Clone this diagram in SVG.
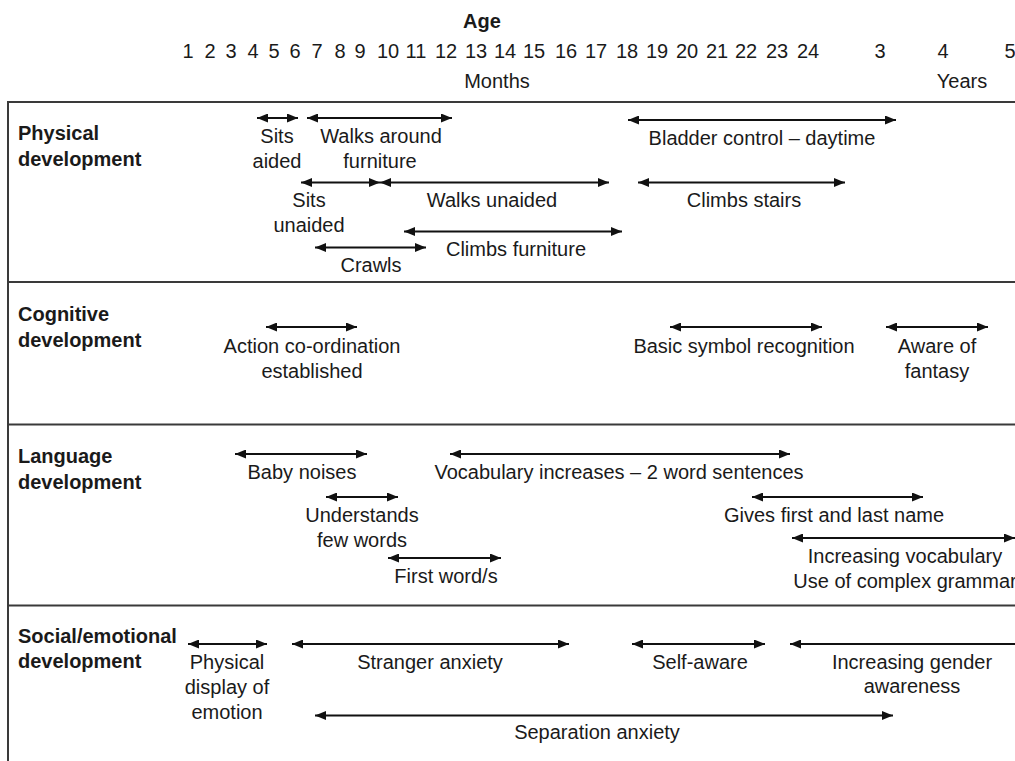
<svg xmlns="http://www.w3.org/2000/svg" width="1015" height="761" viewBox="0 0 1015 761">
<style>
text{font-family:"Liberation Sans",Arial,sans-serif;font-size:20px;fill:#1a1a1a}
.c{text-anchor:middle}
.b{font-weight:bold}
.grid{stroke:#3a3a3a;stroke-width:2;fill:none}
.a{stroke:#111;stroke-width:1.9;fill:none;marker-start:url(#ah);marker-end:url(#ah)}
.s{stroke:#111;stroke-width:1.9;fill:none;marker-start:url(#ah)}
</style>
<defs>
<marker id="ah" viewBox="0 0 11 9" refX="11" refY="4.5" markerWidth="11" markerHeight="9" markerUnits="userSpaceOnUse" orient="auto-start-reverse">
<path d="M0,0 L11,4.5 L0,9 z" fill="#111"/>
</marker>
</defs>
<rect width="1015" height="761" fill="#fff"/>
<g id="header">
<text class="c b" x="482" y="28">Age</text>
<g class="c">
<text class="c" x="188" y="58">1</text>
<text class="c" x="210" y="58">2</text>
<text class="c" x="231" y="58">3</text>
<text class="c" x="253" y="58">4</text>
<text class="c" x="274" y="58">5</text>
<text class="c" x="295" y="58">6</text>
<text class="c" x="317" y="58">7</text>
<text class="c" x="340" y="58">8</text>
<text class="c" x="360" y="58">9</text>
<text class="c" x="388" y="58">10</text>
<text class="c" x="416" y="58">11</text>
<text class="c" x="446" y="58">12</text>
<text class="c" x="476" y="58">13</text>
<text class="c" x="505" y="58">14</text>
<text class="c" x="534" y="58">15</text>
<text class="c" x="566" y="58">16</text>
<text class="c" x="596" y="58">17</text>
<text class="c" x="627" y="58">18</text>
<text class="c" x="657" y="58">19</text>
<text class="c" x="687" y="58">20</text>
<text class="c" x="717" y="58">21</text>
<text class="c" x="746" y="58">22</text>
<text class="c" x="777" y="58">23</text>
<text class="c" x="808" y="58">24</text>
<text class="c" x="880" y="58">3</text>
<text class="c" x="943" y="58">4</text>
<text class="c" x="1010" y="58">5</text>
</g>
<text class="c" x="497" y="88">Months</text>
<text class="c" x="962" y="88">Years</text>
</g>
<g id="table">
<line class="grid" x1="8" y1="102" x2="1015" y2="102"/>
<line class="grid" x1="8" y1="282" x2="1015" y2="282"/>
<line class="grid" x1="8" y1="424.5" x2="1015" y2="424.5"/>
<line class="grid" x1="8" y1="605.5" x2="1015" y2="605.5"/>
<line class="grid" x1="8" y1="101" x2="8" y2="761"/>
</g>
<g id="row-physical">
<text class="b" x="18" y="140">Physical</text>
<text class="b" x="18" y="166">development</text>
</g>
<g id="row-cognitive">
<text class="b" x="18" y="321">Cognitive</text>
<text class="b" x="18" y="347">development</text>
</g>
<g id="row-language">
<text class="b" x="18" y="463">Language</text>
<text class="b" x="18" y="489">development</text>
</g>
<g id="row-social">
<text class="b" x="18" y="643">Social/emotional</text>
<text class="b" x="18" y="668">development</text>
</g>
<g id="connectors">
<line class="a" x1="257" y1="118" x2="298" y2="118"/>
<line class="a" x1="307" y1="118" x2="452" y2="118"/>
<line class="a" x1="628" y1="120" x2="896" y2="120"/>
<line class="a" x1="301" y1="182.5" x2="380" y2="182.5"/>
<line class="a" x1="380" y1="182.5" x2="609" y2="182.5"/>
<line class="a" x1="638" y1="182.5" x2="845" y2="182.5"/>
<line class="a" x1="404" y1="231.5" x2="622" y2="231.5"/>
<line class="a" x1="315" y1="247.5" x2="426" y2="247.5"/>
<line class="a" x1="266" y1="327" x2="357" y2="327"/>
<line class="a" x1="670" y1="327" x2="822" y2="327"/>
<line class="a" x1="886" y1="327" x2="988" y2="327"/>
<line class="a" x1="235" y1="454" x2="367" y2="454"/>
<line class="a" x1="450" y1="454" x2="790" y2="454"/>
<line class="a" x1="326" y1="497" x2="398" y2="497"/>
<line class="a" x1="752" y1="497" x2="923" y2="497"/>
<line class="a" x1="792" y1="538" x2="1015" y2="538"/>
<line class="a" x1="388" y1="558" x2="501" y2="558"/>
<line class="a" x1="188" y1="644" x2="267" y2="644"/>
<line class="a" x1="292" y1="644" x2="569" y2="644"/>
<line class="a" x1="632" y1="644" x2="765" y2="644"/>
<line class="s" x1="790" y1="644" x2="1015" y2="644"/>
<line class="a" x1="315" y1="715.5" x2="893" y2="715.5"/>
</g>
<g id="n-sits-aided"><text class="c" x="277" y="143">Sits</text><text class="c" x="277" y="168">aided</text></g>
<g id="n-walks-around"><text class="c" x="381" y="143">Walks around</text><text class="c" x="380" y="168">furniture</text></g>
<g id="n-bladder"><text class="c" x="762" y="145">Bladder control – daytime</text></g>
<g id="n-sits-unaided"><text class="c" x="309" y="207">Sits</text><text class="c" x="309" y="232">unaided</text></g>
<g id="n-walks-unaided"><text class="c" x="492" y="207">Walks unaided</text></g>
<g id="n-climbs-stairs"><text class="c" x="744" y="207">Climbs stairs</text></g>
<g id="n-climbs-furniture"><text class="c" x="516" y="256">Climbs furniture</text></g>
<g id="n-crawls"><text class="c" x="371" y="272">Crawls</text></g>
<g id="n-action"><text class="c" x="312" y="353">Action co-ordination</text><text class="c" x="312" y="378">established</text></g>
<g id="n-symbol"><text class="c" x="744" y="353">Basic symbol recognition</text></g>
<g id="n-fantasy"><text class="c" x="937" y="353">Aware of</text><text class="c" x="937" y="378">fantasy</text></g>
<g id="n-baby"><text class="c" x="302" y="479">Baby noises</text></g>
<g id="n-vocab"><text class="c" x="619" y="479">Vocabulary increases – 2 word sentences</text></g>
<g id="n-understands"><text class="c" x="362" y="522">Understands</text><text class="c" x="362" y="547">few words</text></g>
<g id="n-name"><text class="c" x="834" y="522">Gives first and last name</text></g>
<g id="n-increasing-vocab"><text class="c" x="905" y="563">Increasing vocabulary</text><text class="c" x="905" y="588">Use of complex grammar</text></g>
<g id="n-first-word"><text class="c" x="446" y="583">First word/s</text></g>
<g id="n-physical-display"><text class="c" x="227" y="669">Physical</text><text class="c" x="227" y="694">display of</text><text class="c" x="227" y="719">emotion</text></g>
<g id="n-stranger"><text class="c" x="430" y="669">Stranger anxiety</text></g>
<g id="n-self-aware"><text class="c" x="700" y="669">Self-aware</text></g>
<g id="n-gender"><text class="c" x="912" y="669">Increasing gender</text><text class="c" x="912" y="693">awareness</text></g>
<g id="n-separation"><text class="c" x="597" y="739">Separation anxiety</text></g>
</svg>
